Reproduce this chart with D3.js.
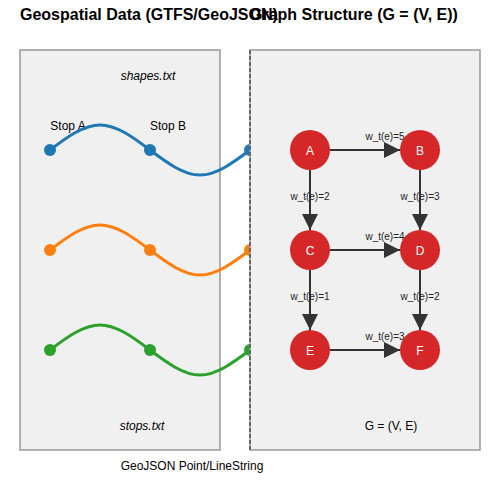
<!DOCTYPE html><html><head><meta charset="utf-8"><script src="https://cdn.jsdelivr.net/npm/d3@7"></script>
<style>body{margin:0;background:#fff}text{font-family:"Liberation Sans",Arial,sans-serif}</style></head><body><svg id="c" width="500" height="500"></svg>
<script>
const routeColors=["#1f77b4","#ff7f0e","#2ca02c"];
const routeRows=[0,1,2];
const shapeX=[0,0.5,1,1.5,2];
const shapeY=[0,1,0,-1,0];
const stopX=[0,1,2];
const nodes=[{id:"A",c:0,r:0},{id:"B",c:1,r:0},{id:"C",c:0,r:1},{id:"D",c:1,r:1},{id:"E",c:0,r:2},{id:"F",c:1,r:2}];
const edges=[["A","B",5],["A","C",2],["B","D",3],["C","D",4],["C","E",1],["D","F",2],["E","F",3]];
const svg=d3.select("#c");
const x=d3.scaleLinear().domain([0,2]).range([50,250]);
const rowY=d3.scaleLinear().domain([0,2]).range([150,350]);
const amp=25;
const gx=d3.scaleLinear().domain([0,1]).range([310,420]);
const gy=d3.scaleLinear().domain([0,2]).range([150,350]);
const t=(s,xx,yy,o={})=>svg.append("text").attr("x",xx).attr("y",yy).text(s).attr("font-size",o.fs||12).attr("text-anchor",o.a||"middle").attr("font-weight",o.w||"normal").attr("font-style",o.st||"normal").attr("fill",o.f||"#000");
svg.append("rect").attr("x",20).attr("y",50).attr("width",200).attr("height",400).attr("fill","#f0f0f0").attr("stroke","#999").attr("stroke-width",1.5);
t("Geospatial Data (GTFS/GeoJSON)",20,20,{fs:16,w:"bold",a:"start"});
t("Graph Structure (G = (V, E))",250,20,{fs:16,w:"bold",a:"start"});
t("shapes.txt",148,80,{st:"italic"});
t("stops.txt",142,430,{st:"italic"});
t("GeoJSON Point/LineString",192,470);
t("Stop A",68,130);t("Stop B",168,130);
const line=d3.line().curve(d3.curveNatural);
routeRows.forEach((r,i)=>{
  const pts=shapeX.map((v,j)=>[x(v),rowY(r)-amp*shapeY[j]]);
  svg.append("path").attr("d",line(pts)).attr("fill","none").attr("stroke",routeColors[i]).attr("stroke-width",3);
  stopX.forEach(s=>svg.append("circle").attr("cx",x(s)).attr("cy",rowY(r)).attr("r",6).attr("fill",routeColors[i]));
});
svg.append("rect").attr("x",250).attr("y",50).attr("width",230).attr("height",400).attr("fill","#f0f0f0").attr("stroke","#999").attr("stroke-width",1.5);
svg.append("line").attr("x1",250).attr("x2",250).attr("y1",50).attr("y2",450).attr("stroke","#666").attr("stroke-width",2).attr("stroke-dasharray","4,2");
t("G = (V, E)",391,430);
svg.append("defs").append("marker").attr("id","ar").attr("viewBox","0 0 10 10").attr("refX",10).attr("refY",5).attr("markerWidth",16).attr("markerHeight",16).attr("markerUnits","userSpaceOnUse").attr("orient","auto")
 .append("path").attr("d","M0,0L10,5L0,10z").attr("fill","#333");
const pos={};nodes.forEach(n=>pos[n.id]=[gx(n.c),gy(n.r)]);
const R=20;
edges.forEach(([a,b,w])=>{
  const [x1,y1]=pos[a],[x2,y2]=pos[b];const dx=x2-x1,dy=y2-y1,L=Math.hypot(dx,dy),ux=dx/L,uy=dy/L;
  svg.append("line").attr("x1",x1+ux*R).attr("y1",y1+uy*R).attr("x2",x2-ux*R).attr("y2",y2-uy*R).attr("stroke","#333").attr("stroke-width",2).attr("marker-end","url(#ar)");
  if(dy===0) t("w_t(e)="+w,385,y1-10,{fs:10,f:"#222"});
  else t("w_t(e)="+w,x1,(y1+y2)/2,{fs:10,f:"#222"});
});
nodes.forEach(n=>{svg.append("circle").attr("cx",pos[n.id][0]).attr("cy",pos[n.id][1]).attr("r",R).attr("fill","#d62728");
 t(n.id,pos[n.id][0],pos[n.id][1]+5,{fs:12,f:"#fff"});});
</script></body></html>
